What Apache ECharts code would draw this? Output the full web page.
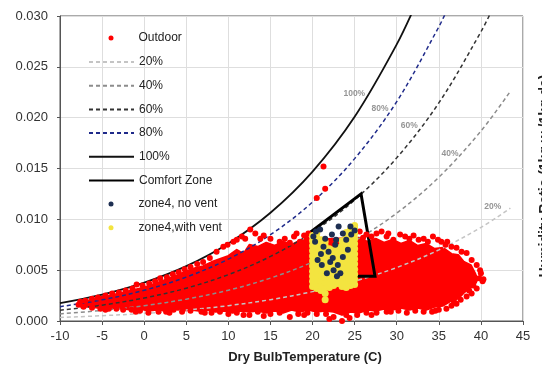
<!DOCTYPE html>
<html>
<head>
<meta charset="utf-8">
<script src="https://cdn.jsdelivr.net/npm/echarts@6/dist/echarts.min.js"></script>
<style>
  html, body { margin: 0; padding: 0; background: #fff; }
  #chart { width: 542px; height: 369px; }
</style>
</head>
<body>
<div id="chart"></div>
<script>
// Relative humidity curves: [dry bulb temperature (C), humidity ratio (kg/kg)]
const rh20 = [[-10,0.00035],[-5,0.00052],[0,0.00075],[5,0.00107],[10,0.00151],[15,0.00210],[20,0.00289],[25,0.00392],[30,0.00526],[35,0.00699],[40,0.00920],[43.5,0.01110]];
const rh40 = [[-10,0.00070],[-5,0.00104],[0,0.00151],[5,0.00215],[10,0.00303],[15,0.00422],[20,0.00580],[25,0.00788],[30,0.01061],[35,0.01414],[40,0.01868],[43.5,0.02260]];
const rh60 = [[-10,0.00106],[-5,0.00156],[0,0.00226],[5,0.00323],[10,0.00456],[15,0.00635],[20,0.00874],[25,0.01190],[30,0.01605],[35,0.02145],[40,0.02844],[41.5,0.03090]];
const rh80 = [[-10,0.00141],[-5,0.00208],[0,0.00302],[5,0.00432],[10,0.00609],[15,0.00849],[20,0.01170],[25,0.01597],[30,0.02158],[35,0.02893],[36,0.03065]];
const rh100 = [[-10,0.00176],[-5,0.00260],[0,0.00378],[5,0.00540],[10,0.00763],[15,0.01065],[20,0.01470],[25,0.02009],[30,0.02721],[32.5,0.03161]];

// Curve captions placed along the upper right of each curve
const curveLabels = [
  ['100%', 24.96, 0.0224],
  ['80%', 28.01, 0.02092],
  ['60%', 31.50, 0.01921],
  ['40%', 36.33, 0.01649],
  ['20%', 41.40, 0.01124]
];

// Comfort zone outline (closed)
const comfortZone = [[19.7,0.0087],[25.76,0.0125],[27.42,0.0044],[22.6,0.0044],[19.7,0.0087]];

// Outdoor hourly weather: outline of the densely packed body of readings
// (upper edge left to right, then lower edge right to left)
const outdoorCore = [
  [-7.8,0.0018],[-7,0.0020],[-6,0.0021],[-5,0.0024],[-4,0.0025],[-3,0.0027],[-2,0.0029],[-1,0.0031],
  [0,0.0033],[1,0.0036],[2,0.0039],[3,0.0042],[4,0.0045],[5,0.0049],[6,0.0052],[7,0.0054],[8,0.0058],
  [9,0.0061],[10,0.0064],[11,0.0070],[11.8,0.0066],[12.5,0.0075],[13.5,0.0073],[14.5,0.0077],
  [15.5,0.0074],[16.5,0.0078],[17.5,0.0075],[18.5,0.0079],[19.5,0.0080],[22.5,0.0081],[25.5,0.0082],
  [26.5,0.0078],[27.5,0.0081],[28.5,0.0077],[29.5,0.0080],[30.5,0.0076],[31.5,0.0079],[32.5,0.0074],
  [33.5,0.0076],[34.5,0.0071],[35.5,0.0072],[36.5,0.0066],[37.3,0.0065],[38,0.0058],[38.8,0.0055],
  [39.3,0.0047],[39.6,0.0041],
  [39.3,0.0036],[38.5,0.0031],[38,0.0028],[37.3,0.0022],[36.5,0.0020],[35.5,0.0015],[34.5,0.0014],
  [33.5,0.0011],[32.5,0.0013],[31.5,0.0011],[30.5,0.0013],[29.5,0.0011],[28.5,0.0012],[27.5,0.0010],
  [26.5,0.0011],[25.5,0.0008],[24.5,0.0009],[23.5,0.0006],[22.5,0.0009],[21.5,0.0010],[20.5,0.0009],
  [19.5,0.0011],[18.5,0.0009],[17.5,0.0011],[16.5,0.0008],[15.5,0.0010],[14.5,0.0008],[13.5,0.0010],
  [12.5,0.0009],[11.5,0.0010],[10.5,0.0008],[9.5,0.0010],[8.5,0.0009],[7.5,0.0011],[6.5,0.0010],
  [5.5,0.0011],[4.5,0.0010],[3.5,0.0012],[2.5,0.0010],[1.5,0.0011],[0.5,0.0010],[-0.5,0.0012],
  [-1.5,0.0011],[-2.5,0.0012],[-3.5,0.0013],[-4.5,0.0012],[-5.5,0.0013],[-6.5,0.0014],[-7.5,0.0014]
];

// Outdoor hourly weather: individual readings around the edge of the body
const outdoorPoints = [
  [-7.6,0.0019],[-7,0.0020],[-6.2,0.0022],[-5.5,0.0023],[-4.6,0.0025],[-3.8,0.0027],[-3,0.0028],
  [-2.2,0.0030],[-1.4,0.0032],[-0.9,0.0036],[-0.2,0.0035],[0.6,0.0037],[1.3,0.0039],[1.9,0.0042],
  [2.7,0.0043],[3.4,0.0046],[4.1,0.0048],[4.8,0.0051],[5.5,0.0053],[6.3,0.0056],[7,0.0058],
  [7.8,0.0062],[8.6,0.0068],[9.4,0.0073],[9.9,0.0075],[10.6,0.0078],[11,0.0080],[11.6,0.0083],
  [12,0.0081],[12.6,0.0090],[13.2,0.0086],[13.8,0.0081],[14.2,0.0084],[15,0.0081],[16.1,0.0078],
  [16.7,0.0081],[17.3,0.0077],[17.8,0.0083],[18.1,0.0086],[18.5,0.0078],[19,0.0084],[19.3,0.0081],
  [19.5,0.0086],[25.6,0.0088],[26,0.0082],[26.4,0.0085],[27,0.0083],[27.6,0.0086],[28.2,0.0088],
  [28.8,0.0083],[29,0.0086],[29.6,0.0080],[30.4,0.0085],[31,0.0083],[31.5,0.0081],[32,0.0084],
  [32.6,0.0080],[33.2,0.0081],[33.7,0.0078],[34.3,0.0083],[34.9,0.0080],[35.3,0.0078],[35.8,0.0075],
  [36,0.0078],[36.5,0.0073],[37.1,0.0072],[37.7,0.0068],[38.3,0.0067],[38.9,0.0060],[39.5,0.0055],
  [39.9,0.0050],[40.0,0.0047],[40.3,0.0041],[40.2,0.0039],[39.8,0.0042],[39.5,0.0032],[39.1,0.0035],
  [38.9,0.0027],[38.6,0.0030],[38.3,0.0024],[37.6,0.0021],[37.1,0.0017],[36.8,0.0019],[36.5,0.0015],
  [35.9,0.0012],[35,0.0011],[34.6,0.0010],[34.2,0.0009],[33.2,0.0009],[32.2,0.0010],[31.2,0.0008],
  [30.2,0.0010],[29.3,0.0009],[28.8,0.0009],[27.6,0.0008],[27,0.0006],[26.4,0.0008],[25.3,0.0006],
  [24.4,0.0003],[24,0.0006],[23.5,0.0000],[22.5,0.0004],[22,0.0002],[21.6,0.0007],[20.5,0.0007],
  [19.4,0.0008],[19,0.0006],[18.3,0.0007],[17.3,0.0004],[16.1,0.0008],[15,0.0007],[14.2,0.0005],
  [13.5,0.0009],[12.5,0.0006],[11.8,0.0006],[11,0.0008],[10,0.0007],[9,0.0009],[8,0.0008],
  [7.2,0.0008],[6.8,0.0009],[5.5,0.0010],[4.5,0.0009],[3.5,0.0011],[3,0.0008],[2.6,0.0009],
  [1.7,0.0009],[0.5,0.0008],[-0.5,0.0010],[-1,0.0009],[-1.5,0.0011],[-2.5,0.0011],[-3.3,0.0012],
  [-4.2,0.0012],[-4.6,0.0011],[-5.2,0.0012],[-6.2,0.0013],[-7.2,0.0014],[-7.8,0.0016],
  [21.3,0.0152],[21.5,0.0130],[20.5,0.0121]
];

// Zone 4 indoor conditions with ventilation: temperature and its humidity readings
const ventColumns = [
  [20.0, [0.0034,0.0039,0.0044,0.0049,0.0054,0.0059,0.0064,0.0069,0.0074,0.0079,0.0084]],
  [20.5, [0.0032,0.0037,0.0042,0.0047,0.0052,0.0057,0.0062,0.0067,0.0072,0.0077,0.0082,0.0086]],
  [21.0, [0.0030,0.0035,0.0040,0.0045,0.0050,0.0056,0.0061,0.0066,0.0071,0.0076,0.0080]],
  [21.5, [0.0021,0.0027,0.0033,0.0038,0.0043,0.0048,0.0053,0.0058,0.0064,0.0069,0.0074,0.0078]],
  [22.0, [0.0033,0.0038,0.0043,0.0048,0.0053,0.0058,0.0063,0.0067,0.0071]],
  [22.5, [0.0035,0.0040,0.0045,0.0050,0.0055,0.0060,0.0065,0.0070]],
  [23.0, [0.0037,0.0042,0.0047,0.0052,0.0057,0.0062,0.0067,0.0072]],
  [23.5, [0.0034,0.0039,0.0044,0.0049,0.0054,0.0059,0.0064,0.0069,0.0074,0.0079]],
  [24.0, [0.0033,0.0038,0.0043,0.0048,0.0053,0.0058,0.0063,0.0068,0.0073,0.0078,0.0083,0.0087]],
  [24.5, [0.0035,0.0040,0.0045,0.0050,0.0055,0.0060,0.0065,0.0070,0.0075,0.0080,0.0085,0.0090]],
  [25.0, [0.0036,0.0041,0.0046,0.0051,0.0056,0.0061,0.0066,0.0071,0.0076,0.0081,0.0086,0.0091,0.0094]]
];

// Zone 4 indoor conditions without ventilation
const noVentPoints = [
  [20.9,0.0090],[23.1,0.0093],[24.5,0.0093],[20.1,0.0083],[21.5,0.0081],[22.3,0.0085],[23.6,0.0086],
  [24.0,0.0080],[21.3,0.0073],[21.9,0.0068],[22.7,0.0075],[24.6,0.0085],[21.1,0.0055],[22.1,0.0058],
  [23.6,0.0063],[23.3,0.0047],[22.5,0.0050],[20.4,0.0088],[22.8,0.0080],[21.0,0.0066],[22.4,0.0062],
  [23.0,0.0055],[24.2,0.0070],[21.7,0.0047],[20.6,0.0060],[22.9,0.0044],[25.0,0.0089],[20.3,0.0078]
];

const ventPoints = [];
ventColumns.forEach(([t, ws]) => ws.forEach(w => ventPoints.push([t, w])));

const FONT = "'Liberation Sans', Arial, sans-serif";
const AXIS_COLOR = '#555';

function rhLine(name, data, color, dashed, width) {
  return {
    name, type: 'line', data, symbol: 'none', smooth: 0.35, z: 2,
    lineStyle: { color, width, type: dashed ? [4, 3] : 'solid' },
    itemStyle: { color }, silent: true
  };
}

const legendBase = {
  orient: 'vertical', itemWidth: 45, itemGap: 9.7, padding: 0,
  textStyle: { fontSize: 12, color: '#222', fontFamily: FONT, lineHeight: 14 }
};

const chart = echarts.init(document.getElementById('chart'), null, { renderer: 'canvas' });
chart.setOption({
  animation: false,
  backgroundColor: '#fff',
  grid: { left: 60, right: 19, top: 16, bottom: 48, show: true, borderColor: AXIS_COLOR, borderWidth: 1 },
  legend: [
    Object.assign({}, legendBase, { left: 108.5, top: 31, itemHeight: 5, data: ['Outdoor'] }),
    Object.assign({}, legendBase, {
      left: 88, top: 55, itemHeight: 14, itemStyle: { opacity: 0 },
      data: ['20%', '40%', '60%', '80%', '100%', 'Comfort Zone']
    }),
    Object.assign({}, legendBase, { left: 108.5, top: 197, itemHeight: 5, data: ['zone4, no vent', 'zone4,with vent'] })
  ],
  xAxis: {
    type: 'value', min: -10, max: 45, interval: 5,
    name: 'Dry BulbTemperature (C)', nameLocation: 'middle', nameGap: 30,
    nameTextStyle: { fontSize: 13, fontWeight: 'bold', color: '#222', fontFamily: FONT, padding: [0, 0, 0, 27] },
    axisLine: { lineStyle: { color: AXIS_COLOR, width: 1 } },
    axisTick: { show: true, length: 4, lineStyle: { color: AXIS_COLOR } },
    axisLabel: { fontSize: 13, color: '#333', fontFamily: FONT, margin: 9 },
    splitLine: { show: true, lineStyle: { color: '#dedede', width: 1 } }
  },
  yAxis: {
    type: 'value', min: 0, max: 0.03, interval: 0.005,
    axisLine: { show: true, onZero: false, lineStyle: { color: AXIS_COLOR, width: 1 } },
    axisTick: { show: true, length: 3, lineStyle: { color: AXIS_COLOR } },
    axisLabel: { fontSize: 13, color: '#333', fontFamily: FONT, margin: 12, formatter: v => v.toFixed(3) },
    splitLine: { show: true, lineStyle: { color: '#dedede', width: 1 } }
  },
  graphic: [{
    type: 'text', x: 538, y: 176, rotation: Math.PI / 2, silent: true,
    style: {
      text: 'Humidity Ratio (1kg w /1kg da)', align: 'center', verticalAlign: 'top',
      font: "bold 14px 'Liberation Sans', Arial, sans-serif", fill: '#222'
    }
  }],
  series: [
    rhLine('20%', rh20, '#c4c4c4', true, 1.5),
    rhLine('40%', rh40, '#8c8c8c', true, 1.5),
    rhLine('60%', rh60, '#333333', true, 1.5),
    rhLine('80%', rh80, '#1f2a8a', true, 1.5),
    rhLine('100%', rh100, '#111111', false, 1.8),
    {
      name: 'Outdoor', type: 'scatter', data: outdoorPoints, symbolSize: 6, z: 3,
      itemStyle: { color: '#ff0000', opacity: 1 }, silent: true
    },
    {
      name: 'Outdoor', type: 'custom', data: outdoorCore, z: 2, silent: true,
      renderItem: function (params, api) {
        if (params.dataIndex !== 0) return;
        const pts = outdoorCore.map(p => api.coord(p));
        return {
          type: 'polygon', shape: { points: pts },
          style: { fill: '#ff0000', stroke: '#ff0000', lineWidth: 2, lineJoin: 'round' }
        };
      }
    },
    {
      name: 'Comfort Zone', type: 'line', data: comfortZone, symbol: 'none', z: 3, silent: true,
      lineStyle: { color: '#000', width: 3, join: 'miter' }, itemStyle: { color: '#000' }
    },
    {
      name: 'zone4,with vent', type: 'scatter', data: ventPoints, symbolSize: 7, z: 3, silent: true,
      itemStyle: { color: '#f3e440', opacity: 1 }
    },
    {
      name: 'zone4, no vent', type: 'scatter', data: noVentPoints, symbolSize: 6, z: 3, silent: true,
      itemStyle: { color: '#1e2f52', opacity: 1 }
    },
    {
      type: 'scatter', symbolSize: 0, z: 4, silent: true,
      data: curveLabels.map(([name, t, w]) => ({ name, value: [t, w] })),
      label: {
        show: true, position: 'inside', formatter: '{b}',
        fontSize: 8.5, fontWeight: 'bold', color: '#7a7a7a', fontFamily: FONT
      }
    }
  ]
});
</script>
</body>
</html>
